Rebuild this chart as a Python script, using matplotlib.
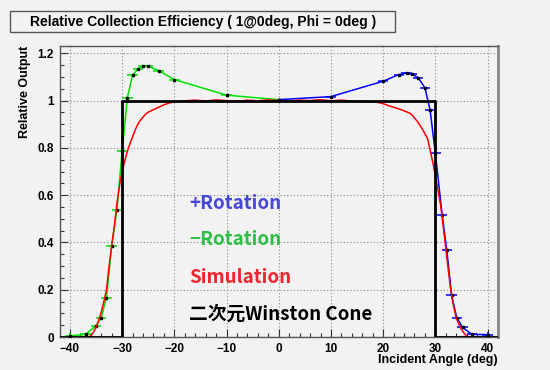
import matplotlib
matplotlib.use("Agg")
import matplotlib.pyplot as plt
from matplotlib.patches import Rectangle
from matplotlib.ticker import MultipleLocator

# -Rotation measurement (green)
minus_x = [-40, -37, -35, -34, -33, -32, -31, -30, -29, -28, -27, -26, -25, -23, -20, -10, 0]
minus_y = [0.005, 0.011, 0.048, 0.082, 0.167, 0.386, 0.538, 0.787, 1.013, 1.108, 1.133, 1.146,
           1.146, 1.127, 1.089, 1.023, 1.004]
minus_yerr = [0.012, 0.006, 0.004, 0.004, 0.004, 0.004, 0.004, 0.004, 0.004, 0.004, 0.004, 0.004,
              0.004, 0.004, 0.004, 0.004, 0.004]

# +Rotation measurement (blue)
plus_x = [0, 10, 20, 23, 24.5, 25.5, 26.7, 28, 29, 30, 31.3, 32.2, 33.1, 34.1, 35.2, 37, 40]
plus_y = [1.004, 1.017, 1.082, 1.11, 1.117, 1.113, 1.097, 1.054, 0.959, 0.777, 0.516, 0.366,
          0.177, 0.082, 0.041, 0.011, 0.010]
plus_yerr = [0.004, 0.004, 0.004, 0.004, 0.004, 0.004, 0.004, 0.004, 0.004, 0.004, 0.004, 0.004,
             0.004, 0.004, 0.004, 0.006, 0.012]

# simulation (red)
sim_x = [-37, -36.5, -36, -35.5, -35, -34.5, -34, -33.5, -33, -32.5, -32, -31.5, -31, -30.5, -30,
         -29.5, -29, -28.5, -28, -27.5, -27, -26.5, -26, -25.5, -25, -24, -23, -22, -21, -20, -19,
         -18, -16, -14, -12, -10, -8, -6, -4, -2, 0, 2, 4, 6, 8, 10, 12, 14, 16, 18,
         19, 20, 21, 22, 23, 24, 25, 25.5, 26, 26.5, 27, 27.5, 28, 28.5, 29, 29.5, 30, 30.5, 31,
         31.5, 32, 32.5, 33, 33.5, 34, 34.5, 35, 35.5, 36, 36.5, 37]
sim_y = [0.0, 0.0, 0.005, 0.02, 0.042, 0.07, 0.105, 0.15, 0.2, 0.3, 0.388, 0.468, 0.565, 0.64,
         0.7, 0.745, 0.785, 0.818, 0.847, 0.876, 0.9, 0.917, 0.93, 0.943, 0.951, 0.962, 0.972,
         0.982, 0.99, 0.994, 0.997, 0.999, 1.002, 0.998, 1.003, 1.0, 0.997, 1.002, 0.999, 1.003,
         1.0, 0.998, 1.002, 1.0, 1.004, 0.999, 1.002, 0.998, 0.996, 0.996, 0.992, 0.987, 0.979,
         0.972, 0.965, 0.957, 0.948, 0.94, 0.926, 0.914, 0.897, 0.88, 0.86, 0.84, 0.79, 0.74,
         0.68, 0.62, 0.56, 0.47, 0.375, 0.28, 0.19, 0.13, 0.08, 0.055, 0.032, 0.016, 0.004, 0.0,
         0.0]

# ideal two-dimensional Winston cone
cone_x = [-42, -30, -30, 30, 30, 42]
cone_y = [0, 0, 1, 1, 0, 0]

labels = ["+Rotation", "\u2212Rotation", "Simulation", "二次元Winston Cone"]
label_colors = ["#4646D8", "#2DBE46", "#F0242C", "#000000"]
label_y = [0.54, 0.389, 0.229, 0.074]

plt.rcParams["font.family"] = ["Liberation Sans", "DejaVu Sans"]
BG = "#F2F2F2"

fig = plt.figure(figsize=(5.5, 3.7), dpi=100, facecolor=BG)
ax = fig.add_axes([59.5 / 550, 1 - 337 / 370, (498 - 59.5) / 550, (337 - 46) / 370])
ax.set_facecolor(BG)

ax.plot(sim_x, sim_y, color="#FF0000", lw=1.1, zorder=4)
ax.errorbar(minus_x, minus_y, xerr=1.0, yerr=minus_yerr, color="#00E000", lw=1.1,
            elinewidth=1.1, capsize=0, zorder=3, marker="s", ms=1.8, mfc="black", mec="black")
ax.errorbar(plus_x, plus_y, xerr=1.0, yerr=plus_yerr, color="#0000FF", lw=1.1,
            elinewidth=1.1, capsize=0, zorder=3, marker="s", ms=1.8, mfc="black", mec="black")
ax.plot(cone_x, cone_y, color="black", lw=2.0, zorder=5)

for text, col, yy in zip(labels, label_colors, label_y):
    ax.text(-17.1, yy, text, color=col, fontsize=13.5, fontweight="bold", va="baseline",
            family=["Noto Sans CJK JP", "DejaVu Sans"], zorder=6)

ax.set_xlim(-42, 42)
ax.set_ylim(0, 1.231)
ax.xaxis.set_major_locator(MultipleLocator(10))
ax.xaxis.set_minor_locator(MultipleLocator(2))
ax.yaxis.set_major_locator(MultipleLocator(0.2))
ax.yaxis.set_minor_locator(MultipleLocator(0.05))
ax.set_yticks([0, 0.2, 0.4, 0.6, 0.8, 1.0, 1.2], ["0", "0.2", "0.4", "0.6", "0.8", "1", "1.2"])
ax.tick_params(which="both", direction="in", top=False, right=False, color="#333333")
ax.tick_params(which="major", length=6, width=0.8, labelsize=8.5, pad=4)
ax.tick_params(which="minor", length=3, width=0.8)
for lab in ax.get_xticklabels() + ax.get_yticklabels():
    lab.set_fontweight("bold")
ax.grid(True, which="major", color="#888888", linestyle=(0, (1, 2)), linewidth=0.8)

for side in ["left", "bottom", "top"]:
    ax.spines[side].set_color("#555555")
    ax.spines[side].set_linewidth(1.0)
ax.spines["right"].set_color("#888888")
ax.spines["right"].set_linewidth(2.0)

fig.text(498 / 550, 1 - 363 / 370, "Incident Angle (deg)", ha="right", va="baseline",
         fontsize=9, fontweight="bold")
fig.text(25 / 550, 1 - 46 / 370, "Relative Output", ha="center", va="top", rotation=90,
         fontsize=9, fontweight="bold")

# title box
fig.patches.append(Rectangle((10 / 550, 1 - 32 / 370), 385 / 550, 21 / 370,
                             transform=fig.transFigure, facecolor=BG, edgecolor="#555555",
                             linewidth=1.0))
fig.text(203 / 550, 1 - 22 / 370, "Relative Collection Efficiency ( 1@0deg, Phi = 0deg )",
         ha="center", va="center", fontsize=10, fontweight="bold")

fig.savefig("out.png", dpi=100, facecolor=BG)
